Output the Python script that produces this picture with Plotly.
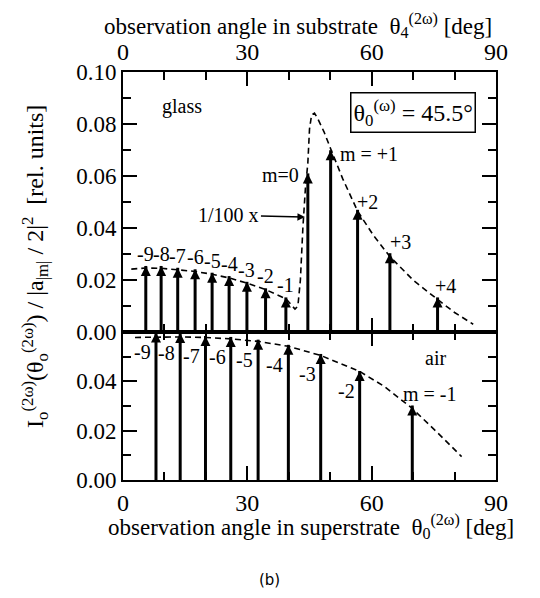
import plotly.graph_objects as go

# ---------------- data ----------------
# upper panel: glass (substrate)
glass_labels = ["-9", "-8", "-7", "-6", "-5", "-4", "-3", "-2", "-1",
                "m=0", "m = +1", "+2", "+3", "+4"]
glass_angle = [5.5, 9.2, 13.2, 17.4, 21.5, 25.6, 29.9, 34.4, 39.3,
               44.6, 50.1, 56.6, 64.4, 75.9]
glass_intensity = [0.0254, 0.0254, 0.0247, 0.0241, 0.0228, 0.0215, 0.0193,
                   0.0168, 0.0133, 0.0610, 0.0699, 0.0470, 0.0303, 0.0133]
glass_curve_angle = [2.0, 5.5, 9.2, 13.2, 17.4, 21.5, 25.6, 29.9, 34.4, 39.3,
                     41.5, 42.2, 42.8, 43.4, 44.0, 44.6, 45.0, 45.5, 46.2,
                     47.0, 48.5, 50.1, 53.0, 56.6, 60.5, 64.4, 70.0, 75.9,
                     80.0, 84.5]
glass_curve_value = [0.0242, 0.0246, 0.0245, 0.0240, 0.0233, 0.0222, 0.0208,
                     0.0188, 0.0163, 0.0128, 0.0088, 0.0100, 0.0200, 0.0400,
                     0.0550, 0.0650, 0.0780, 0.0835, 0.0842, 0.0820, 0.0770,
                     0.0705, 0.0590, 0.0465, 0.0370, 0.0290, 0.0200, 0.0125,
                     0.0075, 0.0030]

# lower panel: air (superstrate)
air_labels = ["-9", "-8", "-7", "-6", "-5", "-4", "-3", "-2", "m = -1"]
air_angle = [7.96, 13.8, 19.9, 26.0, 32.6, 39.9, 47.7, 57.1, 69.8]
air_intensity = [0.0598, 0.0596, 0.0584, 0.0580, 0.0569, 0.0548, 0.0511,
                 0.0442, 0.0302]
air_curve_angle = [2.9, 8.0, 13.8, 19.9, 26.0, 32.6, 39.9, 47.7, 57.1, 63.0,
                   69.8, 76.0, 81.7]
air_curve_value = [0.0578, 0.0580, 0.0580, 0.0578, 0.0572, 0.0562, 0.0542,
                   0.0505, 0.0440, 0.0380, 0.0290, 0.0190, 0.0095]

upper_ticks = [0.0, 0.02, 0.04, 0.06, 0.08, 0.10]
lower_ticks = [0.0, 0.02, 0.04]
angle_ticks = [0, 30, 60, 90]

# ---------------- style ----------------
FONT = "Liberation Serif, Times New Roman, serif"
BLACK = "black"

# label offsets (xanchor, xshift, yshift) for each stem label
glass_label_style = [("center", 0, 12)] * 9 + [
    ("right", -7, -2), ("left", 7, -4), ("left", -3, 8),
    ("left", -2, 11), ("left", -5, 11)]
air_label_style = [("right", -3, -20)] * 8 + [("left", -11, 12)]


def stems(xs, ys):
    sx, sy = [], []
    for a, v in zip(xs, ys):
        sx += [a, a, None]
        sy += [0, v, None]
    return sx, sy


fig = go.Figure()

# upper panel traces (x2, y)
gx, gy = stems(glass_angle, glass_intensity)
fig.add_trace(go.Scatter(x=glass_curve_angle, y=glass_curve_value, mode="lines",
                         line=dict(color=BLACK, width=1.6, dash="6px,4px"),
                         xaxis="x2", yaxis="y", hoverinfo="skip"))
fig.add_trace(go.Scatter(x=gx, y=gy, mode="lines", line=dict(color=BLACK, width=3),
                         xaxis="x2", yaxis="y", hoverinfo="skip"))
fig.add_trace(go.Scatter(x=glass_angle, y=glass_intensity, mode="markers",
                         marker=dict(symbol="arrow-up", size=10, color=BLACK,
                                     line=dict(width=0)),
                         xaxis="x2", yaxis="y"))

# lower panel traces (x, y2)
ax_, ay_ = stems(air_angle, air_intensity)
fig.add_trace(go.Scatter(x=air_curve_angle, y=air_curve_value, mode="lines",
                         line=dict(color=BLACK, width=1.6, dash="6px,4px"),
                         xaxis="x", yaxis="y2", hoverinfo="skip"))
fig.add_trace(go.Scatter(x=ax_, y=ay_, mode="lines", line=dict(color=BLACK, width=3),
                         xaxis="x", yaxis="y2", hoverinfo="skip"))
fig.add_trace(go.Scatter(x=air_angle, y=air_intensity, mode="markers",
                         marker=dict(symbol="arrow-up", size=10, color=BLACK,
                                     line=dict(width=0)),
                         xaxis="x", yaxis="y2"))

annotations = []
for lab, a, v, (xa, xs, ys) in zip(glass_labels, glass_angle, glass_intensity,
                                   glass_label_style):
    annotations.append(dict(x=a, y=v, xref="x2", yref="y", text=lab, showarrow=False,
                            xanchor=xa, yanchor="middle", xshift=xs, yshift=ys,
                            font=dict(family=FONT, size=20, color=BLACK)))
for lab, a, v, (xa, xs, ys) in zip(air_labels, air_angle, air_intensity,
                                   air_label_style):
    annotations.append(dict(x=a, y=v, xref="x", yref="y2", text=lab, showarrow=False,
                            xanchor=xa, yanchor="middle", xshift=xs, yshift=ys,
                            font=dict(family=FONT, size=20, color=BLACK)))

annotations += [
    dict(x=14.2, y=0.0867, xref="x2", yref="y", text="glass", showarrow=False,
         xanchor="center", yanchor="middle",
         font=dict(family=FONT, size=20, color=BLACK)),
    dict(x=75.5, y=0.0495, xref="x", yref="y2", text="air", showarrow=False,
         xanchor="center", yanchor="middle",
         font=dict(family=FONT, size=20, color=BLACK)),
    dict(x=70.0, y=0.0844, xref="x2", yref="y",
         text="θ<sub>0</sub><sup>(ω)</sup> = 45.5°", showarrow=False,
         xanchor="center", yanchor="middle",
         bordercolor=BLACK, borderwidth=1.5, borderpad=2, bgcolor="white",
         font=dict(family=FONT, size=24, color=BLACK)),
    dict(x=43.9, y=0.0442, xref="x2", yref="y", text="1/100 x", showarrow=True,
         arrowhead=2, arrowsize=1, arrowwidth=1.5, arrowcolor=BLACK,
         ax=-76, ay=-2, font=dict(family=FONT, size=20, color=BLACK)),
    dict(x=0.469, y=1.114, xref="paper", yref="paper", showarrow=False,
         xanchor="center", yanchor="middle",
         text="observation angle in substrate  θ<sub>4</sub><sup>(2ω)</sup> [deg]",
         font=dict(family=FONT, size=23, color=BLACK)),
    dict(x=0.505, y=-0.115, xref="paper", yref="paper", showarrow=False,
         xanchor="center", yanchor="middle",
         text="observation angle in superstrate  θ<sub>0</sub><sup>(2ω)</sup> [deg]",
         font=dict(family=FONT, size=23, color=BLACK)),
    dict(x=0.394, y=-0.245, xref="paper", yref="paper", showarrow=False,
         xanchor="center", yanchor="middle",
         text="(b)", font=dict(family="DejaVu Sans", size=15, color=BLACK)),
    dict(x=-0.236, y=0.5245, xref="paper", yref="paper", showarrow=False,
         xanchor="center", yanchor="middle", textangle=-90,
         text="I<sub>o</sub><sup>(2ω)</sup>(θ<sub>o</sub><sup>(2ω)</sup>) / |a<sub>|m|</sub> / 2|<sup>2</sup>  [rel. units]",
         font=dict(family=FONT, size=24, color=BLACK)),
]

axis_common = dict(showgrid=False, zeroline=False, showline=True, linecolor=BLACK,
                   linewidth=2, ticks="inside", tickcolor=BLACK, tickwidth=2,
                   mirror="allticks", automargin=False)
xtickfont = dict(family=FONT, size=24, color=BLACK)
ytickfont = dict(family=FONT, size=23, color=BLACK)
split = 148 / 408

fig.update_layout(
    width=524, height=582,
    margin=dict(l=115, r=36, t=64, b=110, autoexpand=False),
    paper_bgcolor="white", plot_bgcolor="white",
    font=dict(family=FONT, size=22, color=BLACK),
    showlegend=False,
    annotations=annotations,
    xaxis=dict(axis_common, range=[0, 90], tickvals=angle_ticks, anchor="y2",
               side="bottom", ticklen=14, tickfont=xtickfont,
               minor=dict(dtick=10, ticklen=8, tickwidth=2, tickcolor=BLACK,
                          ticks="inside", showgrid=False)),
    xaxis2=dict(axis_common, range=[0, 90], tickvals=angle_ticks, anchor="y",
                side="top", ticklen=14, tickfont=xtickfont,
                minor=dict(dtick=10, ticklen=8, tickwidth=2, tickcolor=BLACK,
                           ticks="inside", showgrid=False)),
    yaxis=dict(axis_common, range=[0, 0.10], tickvals=upper_ticks, tickformat=".2f",
               domain=[split, 1], anchor="x2", ticklen=14, tickfont=ytickfont,
               minor=dict(dtick=0.01, ticklen=8, tickwidth=2, tickcolor=BLACK,
                          ticks="inside", showgrid=False)),
    yaxis2=dict(axis_common, range=[0, 0.06], tickvals=lower_ticks, tickformat=".2f",
                domain=[0, split], anchor="x", ticklen=14, tickfont=ytickfont,
                minor=dict(dtick=0.01, ticklen=8, tickwidth=2, tickcolor=BLACK,
                           ticks="inside", showgrid=False)),
)

fig.write_html("out.html")
